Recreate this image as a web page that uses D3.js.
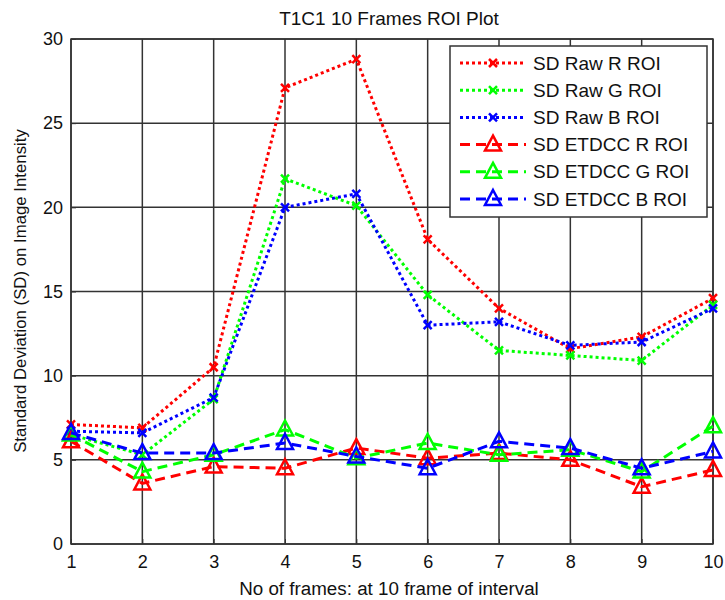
<!DOCTYPE html>
<html>
<head>
<meta charset="utf-8">
<script src="https://cdn.jsdelivr.net/npm/d3@7"></script>
<style>
  body { margin: 0; background: #fff; }
  text { font-family: "Liberation Sans", Arial, sans-serif; fill: #111; }
</style>
</head>
<body>
<script>
// frames and values
var frames = [1, 2, 3, 4, 5, 6, 7, 8, 9, 10];
var rawR = [7.1, 6.9, 10.5, 27.1, 28.8, 18.1, 14.0, 11.6, 12.3, 14.6];
var rawG = [6.5, 5.3, 8.6, 21.7, 20.1, 14.8, 11.5, 11.2, 10.9, 14.2];
var rawB = [6.7, 6.6, 8.7, 20.0, 20.8, 13.0, 13.2, 11.8, 12.0, 14.0];
var etdR = [6.1, 3.6, 4.6, 4.5, 5.7, 5.1, 5.4, 5.0, 3.4, 4.4];
var etdG = [6.5, 4.3, 5.3, 6.8, 5.1, 6.0, 5.3, 5.6, 4.3, 7.0];
var etdB = [6.6, 5.4, 5.4, 6.0, 5.2, 4.5, 6.1, 5.7, 4.5, 5.5];
var yTicks = [0, 5, 10, 15, 20, 25, 30];

var series = [
  {name: "SD Raw R ROI", values: rawR, color: "#ff0000", kind: "raw"},
  {name: "SD Raw G ROI", values: rawG, color: "#00ff00", kind: "raw"},
  {name: "SD Raw B ROI", values: rawB, color: "#0000ff", kind: "raw"},
  {name: "SD ETDCC R ROI", values: etdR, color: "#ff0000", kind: "etd"},
  {name: "SD ETDCC G ROI", values: etdG, color: "#00ff00", kind: "etd"},
  {name: "SD ETDCC B ROI", values: etdB, color: "#0000ff", kind: "etd"}
];

var margin = {top: 39, right: 12, bottom: 56, left: 71},
    width = 725 - margin.left - margin.right,
    height = 600 - margin.top - margin.bottom;

var svg = d3.select("body").append("svg")
    .attr("width", 725)
    .attr("height", 600);

var g = svg.append("g")
    .attr("transform", "translate(" + margin.left + "," + margin.top + ")");

var x = d3.scaleLinear().domain([1, 10]).range([0, width]);
var y = d3.scaleLinear().domain([0, 30]).range([height, 0]);

// grid
g.selectAll(".vgrid").data(frames).enter().append("line")
    .attr("x1", d => x(d)).attr("x2", d => x(d))
    .attr("y1", 0).attr("y2", height)
    .attr("stroke", "#333").attr("stroke-width", 1.5);
g.selectAll(".hgrid").data(yTicks).enter().append("line")
    .attr("y1", d => y(d)).attr("y2", d => y(d))
    .attr("x1", 0).attr("x2", width)
    .attr("stroke", "#333").attr("stroke-width", 1.5);

// axes
var xAxis = g.append("g")
    .attr("transform", "translate(0," + height + ")")
    .call(d3.axisBottom(x).tickValues(frames).tickSize(-5).tickPadding(11).tickFormat(d3.format("d")));
var yAxis = g.append("g")
    .call(d3.axisLeft(y).tickValues(yTicks).tickSize(-5).tickPadding(8));
[xAxis, yAxis].forEach(function(a) {
  a.select(".domain").remove();
  a.selectAll("line").attr("stroke", "#333");
  a.selectAll("text").style("font-size", "18px").attr("fill", "#111");
});

g.append("rect")
    .attr("width", width).attr("height", height)
    .attr("fill", "none").attr("stroke", "#333").attr("stroke-width", 1.5);

var line = d3.line()
    .x((d, i) => x(frames[i]))
    .y(d => y(d));

function drawMarker(sel, kind, color) {
  if (kind === "raw") {
    sel.append("path")
        .attr("d", "M-4,-4L4,4M-4,4L4,-4")
        .attr("stroke", color).attr("stroke-width", 2.5).attr("fill", "none");
  } else {
    sel.append("path")
        .attr("d", "M0,-9L8,6L-8,6Z")
        .attr("stroke", color).attr("stroke-width", 2.5).attr("fill", "none");
  }
}

series.forEach(function(s) {
  g.append("path")
      .datum(s.values)
      .attr("fill", "none")
      .attr("stroke", s.color)
      .attr("stroke-width", 3)
      .attr("stroke-dasharray", s.kind === "raw" ? "3,3" : "10,6")
      .attr("d", line);
  var m = g.selectAll(null).data(s.values).enter().append("g")
      .attr("transform", (d, i) => "translate(" + x(frames[i]) + "," + y(d) + ")");
  drawMarker(m, s.kind, s.color);
});

// title and labels
svg.append("text")
    .attr("x", 389).attr("y", 25)
    .attr("text-anchor", "middle")
    .style("font-size", "19px")
    .text("T1C1 10 Frames ROI Plot");

svg.append("text")
    .attr("x", 389).attr("y", 595)
    .attr("text-anchor", "middle")
    .style("font-size", "18.8px")
    .text("No of frames: at 10 frame of interval");

svg.append("text")
    .attr("transform", "translate(26,291) rotate(-90)")
    .attr("text-anchor", "middle")
    .style("font-size", "16.8px")
    .text("Standard Deviation (SD) on Image Intensity");

// legend
var legend = svg.append("g").attr("transform", "translate(450,46)");
legend.append("rect")
    .attr("width", 257).attr("height", 171)
    .attr("fill", "#fff").attr("stroke", "#333").attr("stroke-width", 1.5);

var items = legend.selectAll(".item").data(series).enter().append("g")
    .attr("transform", (d, i) => "translate(0," + (17 + i * 27.2) + ")");
items.append("line")
    .attr("x1", 10).attr("x2", 76)
    .attr("stroke", d => d.color).attr("stroke-width", 3)
    .attr("stroke-dasharray", d => d.kind === "raw" ? "3,3" : "10,6");
items.each(function(d) {
  var mk = d3.select(this).append("g").attr("transform", "translate(43,0)");
  drawMarker(mk, d.kind, d.color);
});
items.append("text")
    .attr("x", 83).attr("dy", "0.35em")
    .style("font-size", "19px")
    .text(d => d.name);
</script>
</body>
</html>
